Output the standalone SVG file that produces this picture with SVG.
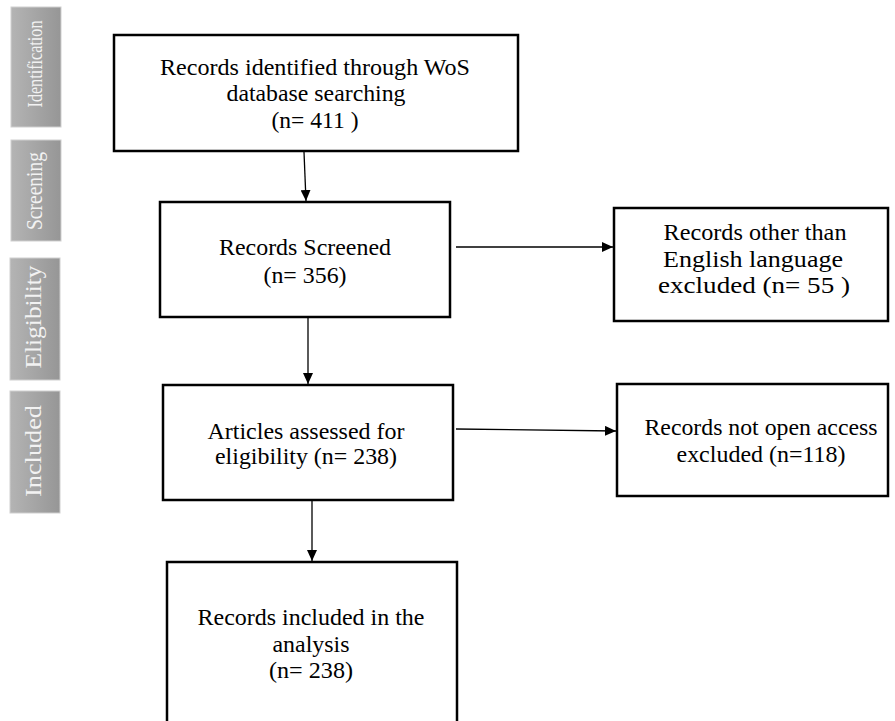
<svg xmlns="http://www.w3.org/2000/svg" width="895" height="721" viewBox="0 0 895 721">
  <defs>
    <linearGradient id="stageGrad" x1="0" y1="0" x2="1" y2="0">
      <stop offset="0" stop-color="#b4b4b4"/>
      <stop offset="1" stop-color="#969696"/>
    </linearGradient>
    <marker id="arrow" markerUnits="userSpaceOnUse" markerWidth="12" markerHeight="10" refX="11" refY="5" orient="auto">
      <path d="M0,0 L11,5 L0,10 Z" fill="#000"/>
    </marker>
  </defs>
  <style>
    .stage { fill: url(#stageGrad); stroke: #cfcfcf; stroke-width: 1; }
    .stage-text { font-family: 'Liberation Serif', 'Times New Roman', serif; font-size: 23px; fill: #f2f2f2; text-anchor: middle; }
    .box { fill: #fff; stroke: #000; stroke-width: 2.5; }
    .txt { font-family: 'Liberation Serif', 'Times New Roman', serif; font-size: 23px; fill: #000; text-anchor: middle; }
    .conn { stroke: #000; stroke-width: 1.3; fill: none; marker-end: url(#arrow); }
  </style>
  <rect width="895" height="721" fill="#fff"/>

  <g id="stage-identification">
    <rect class="stage" x="11" y="7" width="50" height="120"/>
    <text class="stage-text" style="font-size:21px" transform="translate(42,64) rotate(-90)" textLength="87" lengthAdjust="spacingAndGlyphs">Identification</text>
  </g>
  <g id="stage-screening">
    <rect class="stage" x="11" y="140" width="50" height="101"/>
    <text class="stage-text" transform="translate(42,191) rotate(-90)" textLength="78" lengthAdjust="spacingAndGlyphs">Screening</text>
  </g>
  <g id="stage-eligibility">
    <rect class="stage" x="10" y="258" width="50" height="122"/>
    <text class="stage-text" transform="translate(41,317) rotate(-90)" textLength="103" lengthAdjust="spacingAndGlyphs">Eligibility</text>
  </g>
  <g id="stage-included">
    <rect class="stage" x="10" y="391" width="50" height="122"/>
    <text class="stage-text" transform="translate(41,451) rotate(-90)" textLength="92" lengthAdjust="spacingAndGlyphs">Included</text>
  </g>

  <g id="connectors">
    <line class="conn" x1="304" y1="152" x2="306" y2="201"/>
    <line class="conn" x1="456" y1="247" x2="613" y2="247"/>
    <line class="conn" x1="308" y1="318" x2="308" y2="384"/>
    <line class="conn" x1="456" y1="429" x2="616" y2="431"/>
    <line class="conn" x1="312" y1="501" x2="312" y2="561"/>
  </g>

  <g id="node-identified">
    <rect class="box" x="114" y="35" width="404" height="116"/>
    <text class="txt" x="315" y="75" textLength="310" lengthAdjust="spacingAndGlyphs">Records identified through WoS</text>
    <text class="txt" x="316" y="101" textLength="179" lengthAdjust="spacingAndGlyphs">database searching</text>
    <text class="txt" x="315" y="128" textLength="87" lengthAdjust="spacingAndGlyphs">(n= 411 )</text>
  </g>

  <g id="node-screened">
    <rect class="box" x="160" y="202" width="290" height="115"/>
    <text class="txt" x="305" y="255" textLength="172" lengthAdjust="spacingAndGlyphs">Records Screened</text>
    <text class="txt" x="305" y="283" textLength="83" lengthAdjust="spacingAndGlyphs">(n= 356)</text>
  </g>

  <g id="node-excluded-language">
    <rect class="box" x="614" y="208" width="274" height="113"/>
    <text class="txt" x="755" y="240" textLength="183" lengthAdjust="spacingAndGlyphs">Records other than</text>
    <text class="txt" x="753" y="267" textLength="180" lengthAdjust="spacingAndGlyphs">English language</text>
    <text class="txt" x="754" y="293" textLength="192" lengthAdjust="spacingAndGlyphs">excluded (n= 55 )</text>
  </g>

  <g id="node-eligibility">
    <rect class="box" x="163" y="385" width="290" height="115"/>
    <text class="txt" x="306" y="439" textLength="197" lengthAdjust="spacingAndGlyphs">Articles assessed for</text>
    <text class="txt" x="306" y="464" textLength="182" lengthAdjust="spacingAndGlyphs">eligibility (n= 238)</text>
  </g>

  <g id="node-excluded-access">
    <rect class="box" x="617" y="384" width="271" height="112"/>
    <text class="txt" x="761" y="435" textLength="233" lengthAdjust="spacingAndGlyphs">Records not open access</text>
    <text class="txt" x="761" y="462" textLength="169" lengthAdjust="spacingAndGlyphs">excluded (n=118)</text>
  </g>

  <g id="node-included">
    <rect class="box" x="167" y="562" width="290" height="170"/>
    <text class="txt" x="311" y="625" textLength="227" lengthAdjust="spacingAndGlyphs">Records included in the</text>
    <text class="txt" x="311" y="652" textLength="77" lengthAdjust="spacingAndGlyphs">analysis</text>
    <text class="txt" x="311" y="678" textLength="84" lengthAdjust="spacingAndGlyphs">(n= 238)</text>
  </g>
</svg>
